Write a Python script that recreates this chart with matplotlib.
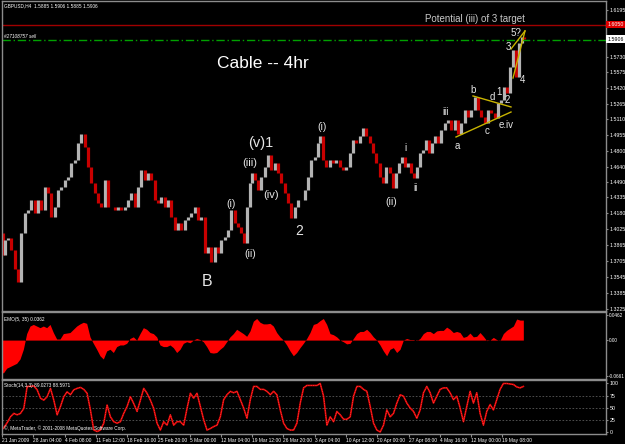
import matplotlib
matplotlib.use("Agg")
import matplotlib.pyplot as plt

plt.rcParams["font.family"] = ["Liberation Sans", "DejaVu Sans"]

# sampled H4 candles: bar number (about one bar per pixel) and close price
bars = [
    0, 3, 5, 8, 11, 15, 18, 21, 25, 28,
    31, 35, 38, 41, 45, 48, 51, 55, 58, 61,
    65, 68, 71, 75, 78, 81, 85, 88, 91, 95,
    98, 101, 105, 108, 111, 115, 118, 121, 125, 128,
    131, 135, 138, 141, 145, 148, 151, 155, 158, 161,
    165, 168, 171, 175, 178, 181, 185, 188, 191, 195,
    198, 201, 205, 208, 211, 215, 218, 221, 225, 228,
    231, 235, 238, 241, 244, 247, 250, 252, 255, 258,
    261, 265, 268, 271, 275, 278, 281, 285, 288, 291,
    295, 298, 301, 305, 308, 311, 315, 318, 320, 323,
    326, 330, 333, 336, 340, 343, 346, 350, 353, 356,
    360, 363, 366, 370, 373, 376, 380, 383, 386, 390,
    393, 396, 399, 402, 405, 408, 411, 414, 417, 420,
    423, 426, 429, 432, 435, 438, 441, 445, 448, 451,
    455, 458, 461, 465, 468, 471, 475, 478, 481, 485,
    488, 491, 495, 498, 501, 504, 507, 510, 513, 516,
    519, 522, 524,
]
closes = [
    1.398, 1.376, 1.391, 1.393, 1.381, 1.363, 1.350, 1.398, 1.418, 1.421,
    1.431, 1.418, 1.431, 1.421, 1.444, 1.438, 1.414, 1.424, 1.441, 1.444,
    1.451, 1.454, 1.468, 1.471, 1.488, 1.496, 1.484, 1.464, 1.448, 1.438,
    1.428, 1.424, 1.451, 1.424, 1.424, 1.421, 1.424, 1.421, 1.424, 1.431,
    1.438, 1.424, 1.444, 1.461, 1.451, 1.458, 1.451, 1.431, 1.428, 1.434,
    1.424, 1.431, 1.414, 1.401, 1.408, 1.401, 1.411, 1.414, 1.418, 1.424,
    1.411, 1.414, 1.378, 1.384, 1.370, 1.384, 1.378, 1.391, 1.394, 1.401,
    1.421, 1.408, 1.404, 1.398, 1.388, 1.424, 1.448, 1.458, 1.451, 1.441,
    1.454, 1.464, 1.476, 1.461, 1.468, 1.458, 1.448, 1.438, 1.428, 1.413,
    1.424, 1.431, 1.431, 1.441, 1.454, 1.471, 1.474, 1.488, 1.494, 1.471,
    1.464, 1.471, 1.468, 1.471, 1.464, 1.461, 1.464, 1.478, 1.491, 1.488,
    1.494, 1.502, 1.494, 1.488, 1.478, 1.468, 1.454, 1.448, 1.464, 1.458,
    1.443, 1.458, 1.468, 1.474, 1.464, 1.468, 1.458, 1.453, 1.464, 1.478,
    1.481, 1.491, 1.478, 1.488, 1.494, 1.488, 1.500, 1.507, 1.510, 1.500,
    1.510, 1.496, 1.507, 1.520, 1.513, 1.520, 1.533, 1.520, 1.513, 1.507,
    1.520, 1.517, 1.512, 1.527, 1.530, 1.543, 1.537, 1.563, 1.580, 1.553,
    1.587, 1.593, 1.591,
]

# indicator samples, one every IND_STEP bars from the chart start
IND_STEP = 10 / 3
emo = [
    -0.055, -0.061, -0.052, -0.049, -0.046, -0.043, -0.035, -0.017, 0.012, 0.026,
    0.029, 0.026, 0.023, 0.026, 0.023, 0.029, 0.014, 0.002, 0.002, 0.012,
    0.013, 0.014, 0.020, 0.026, 0.030, 0.033, 0.031, 0.006, -0.006, -0.017,
    -0.029, -0.035, -0.020, -0.017, -0.023, -0.012, -0.009, -0.009, -0.006, 0.003,
    0.006, 0.000, 0.012, 0.023, 0.020, 0.014, 0.012, 0.006, -0.009, -0.012,
    -0.012, -0.009, -0.014, -0.023, -0.017, -0.006, -0.003, -0.005, 0.000, 0.003,
    0.001, -0.003, -0.012, -0.023, -0.024, -0.023, -0.017, -0.012, -0.003, 0.006,
    0.012, 0.020, 0.016, 0.012, 0.007, 0.017, 0.035, 0.040, 0.033, 0.030,
    0.030, 0.031, 0.026, 0.014, 0.006, 0.000, -0.009, -0.020, -0.029, -0.023,
    -0.014, -0.006, 0.003, 0.014, 0.029, 0.031, 0.036, 0.040, 0.029, 0.012,
    0.010, 0.006, 0.000, -0.003, -0.007, -0.006, 0.003, 0.012, 0.016, 0.016,
    0.020, 0.014, 0.006, 0.000, -0.009, -0.020, -0.029, -0.017, -0.014, -0.023,
    -0.017, 0.000, 0.003, 0.001, 0.001, -0.001, 0.003, 0.012, 0.016, 0.016,
    0.012, 0.017, 0.018, 0.018, 0.024, 0.020, 0.014, 0.016, 0.014, 0.005,
    0.007, 0.013, 0.006, 0.007, 0.014, 0.007, -0.001, 0.000, 0.005, 0.001,
    -0.001, 0.012, 0.018, 0.022, 0.026, 0.039, 0.037, 0.037,
]
stoch = [
    3, 10, 20, 32, 39, 36, 39, 49, 94, 94,
    95, 87, 70, 66, 73, 90, 66, 36, 53, 73,
    83, 77, 87, 90, 92, 88, 80, 46, 5, 2,
    5, 19, 56, 32, 22, 19, 22, 39, 53, 73,
    59, 43, 66, 90, 80, 66, 49, 19, 5, 22,
    15, 36, 15, 22, 22, 15, 49, 80, 70, 80,
    53, 26, 5, 8, 12, 15, 32, 67, 77, 84,
    81, 84, 67, 50, 29, 67, 94, 94, 88, 88,
    84, 77, 84, 77, 46, 19, 8, 5, 5, 19,
    60, 91, 96, 96, 96, 96, 100, 74, 15, 32,
    22, 43, 36, 27, 27, 32, 74, 94, 94, 88,
    84, 53, 19, 5, 1, 15, 46, 32, 39, 60,
    77, 74, 60, 50, 43, 29, 46, 81, 94, 81,
    60, 74, 88, 91, 91, 81, 67, 74, 50, 22,
    53, 84, 60, 81, 39, 15, 43, 57, 46, 67,
    88, 100, 100, 99, 98, 93, 91, 94,
]

time_labels = [
    "21 Jan 2009", "28 Jan 04:00", "4 Feb 08:00", "11 Feb 12:00", "18 Feb 16:00",
    "25 Feb 20:00", "5 Mar 00:00", "12 Mar 04:00", "19 Mar 12:00", "26 Mar 20:00",
    "3 Apr 04:00", "10 Apr 12:00", "20 Apr 00:00", "27 Apr 08:00", "4 May 16:00",
    "12 May 00:00", "19 May 08:00",
]
BARS_PER_LABEL = 31.3

price_ticks = [1.6195, 1.5730, 1.5575, 1.5420, 1.5265, 1.5110, 1.4955, 1.4800, 1.4640,
               1.4490, 1.4335, 1.4180, 1.4025, 1.3865, 1.3705, 1.3545, 1.3385, 1.3225]
target_price = 1.6050
order_price = 1.5893
last_price = 1.5906

# Elliott wave count: (bar, price, label, font size)
waves = [
    (207, 1.3497, "B", 11.5), (231, 1.4271, "(i)", 7.5), (250, 1.3775, "(ii)", 7.5),
    (250, 1.4677, "(iii)", 8), (271, 1.4360, "(iv)", 8), (261, 1.4876, "(v)1", 10.5),
    (299, 1.4003, "2", 10), (322, 1.5034, "(i)", 7.5), (391, 1.4290, "(ii)", 7.5),
    (405, 1.4826, "i", 7), (415, 1.4429, "ii", 7), (446, 1.5183, "iii", 7),
    (457, 1.4846, "a", 7), (473, 1.5401, "b", 7), (487, 1.4995, "c", 7),
    (492, 1.5332, "d", 7), (506, 1.5054, "e.iv", 7), (499, 1.5382, "1", 7),
    (507, 1.5302, "2", 7), (508, 1.5828, "3", 7), (522, 1.5501, "4", 7),
    (516, 1.5967, "5?", 7),
]
# hand drawn trend lines: ((bar, price), (bar, price))
trend_lines = [
    ((456, 1.4935), (511, 1.5183)),
    ((473, 1.5342), (511, 1.5233)),
    ((513, 1.5520), (525, 1.5987)),
    ((511, 1.5808), (525, 1.5987)),
]

UP = "#b4b4b4"
DOWN = "#c80000"
FRAME = "#8c8c8c"
SMALL = 3.4  # terminal's tiny bitmap font
AXIS = 3.8

fig = plt.figure(figsize=(6.25, 4.44), dpi=100, facecolor="black")
W, H = 625, 444
left, width = 2 / W, 604 / W
ax = fig.add_axes([left, 1 - 311 / H, width, 310 / H])
ax_emo = fig.add_axes([left, 1 - 379 / H, width, 67 / H])
ax_sto = fig.add_axes([left, 1 - 434 / H, width, 54 / H])

for a in (ax, ax_emo, ax_sto):
    a.set_facecolor("black")
    a.set_xlim(2, 606)
    for s in a.spines.values():
        s.set_color(FRAME)
        s.set_linewidth(1)
    a.yaxis.tick_right()
    a.tick_params(axis="y", colors=FRAME, labelcolor="white", labelsize=AXIS, length=1.5, pad=1)
    a.tick_params(axis="x", bottom=False, labelbottom=False)

# candles: open is the previous close
opens = [closes[0]] + closes[:-1]
lows = [min(o, c) for o, c in zip(opens, closes)]
highs = [max(o, c) for o, c in zip(opens, closes)]
cols = [UP if c >= o else DOWN for o, c in zip(opens, closes)]
ax.vlines(bars, lows, highs, colors=cols, linewidth=2.3)

ax.set_ylim(1.3209, 1.6284)
ax.set_yticks(price_ticks)
ax.set_yticklabels([f"{p:.4f}" for p in price_ticks])

ax.axhline(target_price, color="#a00000", linewidth=1)
ax.axhline(order_price, color="#00a000", linewidth=1, linestyle=(0, (6, 2, 1, 2)))
ytr = ax.get_yaxis_transform()
ax.text(1.002, target_price, f"{target_price:.4f}", transform=ytr, fontsize=AXIS, color="white",
        va="center", ha="left", bbox=dict(facecolor="#e00000", edgecolor="none", pad=0.8))
ax.text(1.002, last_price, f"{last_price:.4f}", transform=ytr, fontsize=AXIS, color="black",
        va="center", ha="left", bbox=dict(facecolor="white", edgecolor="none", pad=0.8))

for (x0, y0), (x1, y1) in trend_lines:
    ax.plot([x0, x1], [y0, y1], color="#c8b400", linewidth=1)

for x, y, label, size in waves:
    ax.text(x, y, label, color="#e6e6e6", fontsize=size, ha="center", va="center")

ax.text(263, 1.5669, "Cable -- 4hr", color="white", fontsize=12.5, ha="center", va="center")
ax.text(425, 1.6106, "Potential (iii) of 3 target", color="#c8c8c8", fontsize=7,
        ha="left", va="center")
ax.text(0.003, 0.992, "GBPUSD,H4  1.5885 1.5906 1.5885 1.5906", transform=ax.transAxes,
        color="white", fontsize=SMALL, va="top", ha="left")
ax.text(4, order_price + 0.001, "#27108757 sell", color="white", fontsize=SMALL, style="italic",
        va="bottom", ha="left")

# EMO histogram area
emo_x = [i * IND_STEP for i in range(len(emo))]
ax_emo.fill_between(emo_x, emo, 0, color="#ff0000", linewidth=0)
ax_emo.set_ylim(-0.072, 0.052)
ax_emo.set_yticks([0.0462, 0.0, -0.0661])
ax_emo.set_yticklabels(["0.0462", "0.00", "-0.0661"])
ax_emo.tick_params(axis="y", labelsize=SMALL, pad=0.5)
ax_emo.text(0.004, 0.93, "EMO(5, 35) 0.0362", transform=ax_emo.transAxes, color="white",
            fontsize=SMALL, va="top", ha="left")

# Stochastic
sto_x = [i * IND_STEP for i in range(len(stoch))]
for lvl in (25, 50, 75):
    ax_sto.axhline(lvl, color="#5a5a5a", linewidth=0.6, linestyle=(0, (2, 2)))
ax_sto.plot(sto_x, stoch, color="#e00000", linewidth=1.2)
ax_sto.plot(sto_x, stoch, color="#ff6060", linewidth=0.5, linestyle=(0, (1, 1.5)))
ax_sto.set_ylim(-3.1, 107.1)
ax_sto.set_yticks([100, 75, 50, 25, 0])
ax_sto.text(0.004, 0.95, "Stoch(14,3,3) 89.0273 88.5971", transform=ax_sto.transAxes,
            color="white", fontsize=SMALL, va="top", ha="left")
ax_sto.text(0.004, 0.05, "\u00a9, MetaTrader, \u00a9 2001-2008 MetaQuotes Software Corp.",
            transform=ax_sto.transAxes, color="white", fontsize=SMALL, va="bottom", ha="left")

tick_x = [1.5 + k * BARS_PER_LABEL for k in range(len(time_labels))]
ax_sto.set_xticks(tick_x)
ax_sto.set_xticklabels(time_labels, ha="left")
ax_sto.tick_params(axis="x", bottom=True, labelbottom=True, colors=FRAME, labelcolor="white",
                   labelsize=3.5, length=2, pad=1)

fig.savefig("out.png", dpi=100, facecolor="black")
